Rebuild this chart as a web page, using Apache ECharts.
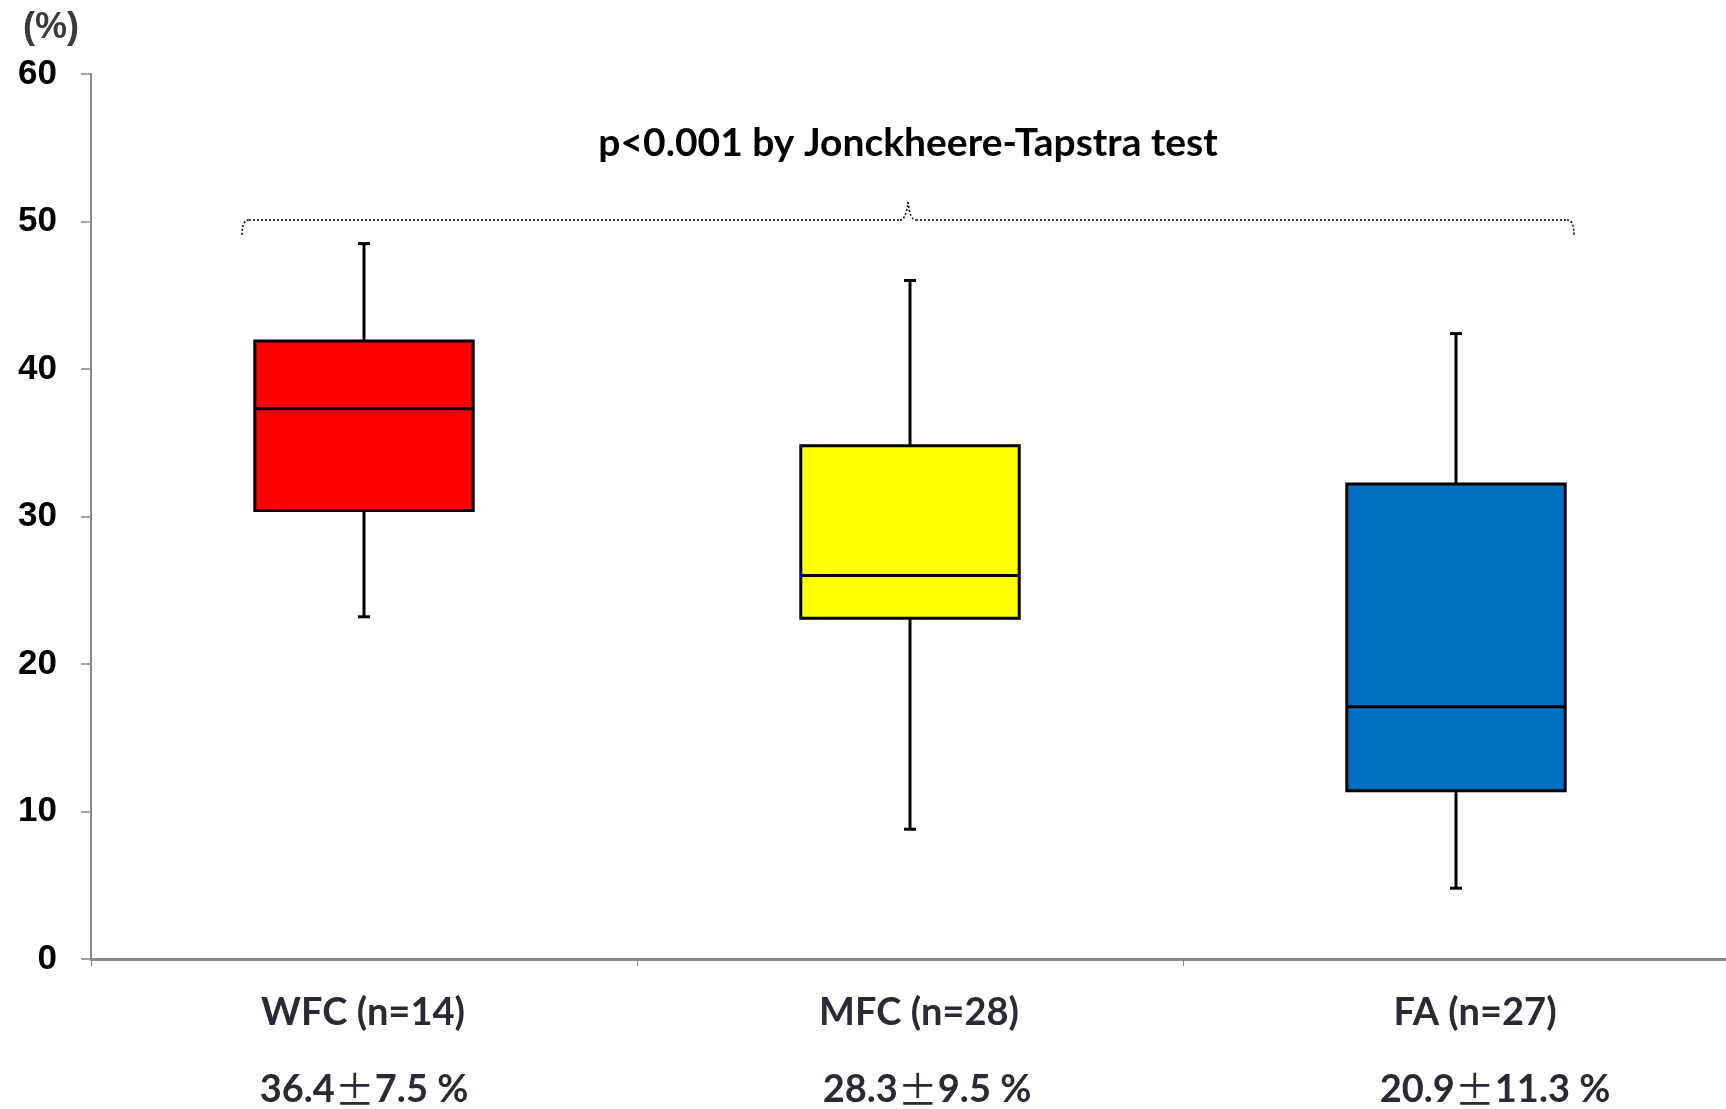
<!DOCTYPE html>
<html>
<head>
<meta charset="utf-8">
<script src="https://cdn.jsdelivr.net/npm/echarts@6/dist/echarts.min.js"></script>
<style>
html,body{margin:0;padding:0;background:#fff;}
#chart{width:1726px;height:1109px;}
</style>
</head>
<body>
<div id="chart"></div>
<script>
// ---- data ----
const categories = ['WFC (n=14)', 'MFC (n=28)', 'FA (n=27)'];
const stats = ['36.4±7.5 %', '28.3±9.5 %', '20.9±11.3 %'];
const whiskerMin = [23.2, 8.8, 4.8];
const q1 = [30.4, 23.1, 11.4];
const median = [37.3, 26.0, 17.1];
const q3 = [41.9, 34.8, 32.2];
const whiskerMax = [48.5, 46.0, 42.4];
const boxColors = ['#FF0000', '#FFFF00', '#0070C0'];
const yTicks = [0, 10, 20, 30, 40, 50, 60];
const annotation = 'p<0.001 by Jonckheere-Tapstra test';

const seriesData = categories.map((c, i) => [i, whiskerMin[i], q1[i], median[i], q3[i], whiskerMax[i]]);

const chart = echarts.init(document.getElementById('chart'), null, {renderer: 'canvas'});

const dotted = {fill: 'none', stroke: '#000', lineWidth: 1.5, lineDash: [2, 2]};
const bracketParts = [
  {type: 'bezierCurve', shape: {x1: 242, y1: 235, cpx1: 242, cpy1: 220, x2: 249, y2: 220}, style: dotted},
  {type: 'line', shape: {x1: 249, y1: 220, x2: 900, y2: 220}, style: dotted},
  {type: 'bezierCurve', shape: {x1: 900, y1: 220, cpx1: 906, cpy1: 220, x2: 908, y2: 202}, style: dotted},
  {type: 'bezierCurve', shape: {x1: 908, y1: 202, cpx1: 910, cpy1: 220, x2: 916, y2: 220}, style: dotted},
  {type: 'line', shape: {x1: 916, y1: 220, x2: 1567, y2: 220}, style: dotted},
  {type: 'bezierCurve', shape: {x1: 1567, y1: 220, cpx1: 1574, cpy1: 220, x2: 1574, y2: 235}, style: dotted}
];

const labelColor = '#2a2a36';
// horizontal offsets (px) of the two label lines relative to category centre, as laid out in the original
const nameShift = [-1, 9, 19];
const statShift = [-1, 17, 39];
const baseText = {fontFamily: 'Lato', fontWeight: 'bold', fontSize: 38, color: labelColor, lineHeight: 77};
const rich = {
  pm: {fontFamily: '"Noto Sans CJK JP"', fontWeight: 'normal', fontSize: 40, color: labelColor, lineHeight: 77},
  b: Object.assign({}, baseText)
};
categories.forEach((c, i) => {
  rich['a' + i] = Object.assign({}, baseText, {padding: [0, Math.max(0, -nameShift[i] * 2), 0, Math.max(0, nameShift[i] * 2)]});
  rich['s' + i] = Object.assign({}, baseText, {padding: [0, 0, 0, Math.max(0, statShift[i] * 2)]});
});

const option = {
  backgroundColor: '#ffffff',
  animation: false,
  grid: {left: 91, width: 1638, top: 74, bottom: 150, containLabel: false, outerBoundsMode: 'none'},
  xAxis: {
    type: 'category',
    data: categories,
    boundaryGap: true,
    axisLine: {lineStyle: {color: '#888888', width: 3}},
    axisTick: {show: true, alignWithLabel: false, length: 7, lineStyle: {color: '#888888', width: 1}},
    axisLabel: {
      margin: 15,
      interval: 0,
      formatter: function (v, i) {
        const parts = stats[i].split('±');
        return '{a' + i + '|' + v + '}\n{s' + i + '|' + parts[0] + '}{pm|±}{b|' + parts[1] + '}';
      },
      rich: rich
    },
    splitLine: {show: false}
  },
  yAxis: {
    type: 'value',
    min: 0, max: 60, interval: 10,
    name: '(%)',
    nameLocation: 'end',
    nameGap: 28,
    nameTextStyle: {fontFamily: '"Liberation Sans", Arial', fontWeight: 'bold', fontSize: 36, color: '#3a3a3a', align: 'right', padding: [0, 12, 0, 0]},
    axisLine: {show: true, lineStyle: {color: '#888888', width: 2}},
    axisTick: {show: true, inside: false, length: 10, lineStyle: {color: '#888888', width: 1.5}},
    axisLabel: {
      margin: 34,
      fontFamily: '"Liberation Sans", Arial',
      fontWeight: 'bold', fontSize: 35, color: '#000000',
      formatter: function (v) { return yTicks.indexOf(v) >= 0 ? String(v) : ''; }
    },
    splitLine: {show: false}
  },
  series: [{
    type: 'custom',
    data: seriesData,
    encode: {x: 0, y: [1, 2, 3, 4, 5]},
    renderItem: function (params, api) {
      const idx = api.value(0);
      const pMin = api.coord([idx, api.value(1)]);
      const pQ1 = api.coord([idx, api.value(2)]);
      const pMed = api.coord([idx, api.value(3)]);
      const pQ3 = api.coord([idx, api.value(4)]);
      const pMax = api.coord([idx, api.value(5)]);
      const bw = api.size([1, 0])[0] * 0.40;
      const cx = pMed[0];
      const capW = 12;
      const lw = 3;
      const line = (x1, y1, x2, y2) => ({type: 'line', shape: {x1: x1, y1: y1, x2: x2, y2: y2}, style: {stroke: '#000', lineWidth: lw}});
      return {
        type: 'group',
        children: [
          line(cx, pQ3[1], cx, pMax[1]),
          line(cx - capW / 2, pMax[1], cx + capW / 2, pMax[1]),
          line(cx, pQ1[1], cx, pMin[1]),
          line(cx - capW / 2, pMin[1], cx + capW / 2, pMin[1]),
          {type: 'rect', shape: {x: cx - bw / 2, y: pQ3[1], width: bw, height: pQ1[1] - pQ3[1]},
           style: {fill: boxColors[params.dataIndex], stroke: '#000', lineWidth: lw}},
          line(cx - bw / 2, pMed[1], cx + bw / 2, pMed[1])
        ]
      };
    }
  }],
  graphic: [
    {
      type: 'text',
      style: {
        x: 908, y: 143, text: annotation, textAlign: 'center', textVerticalAlign: 'middle',
        font: 'bold 39px Lato', fill: '#000'
      }
    },
    {type: 'group', children: bracketParts}
  ]
};
chart.setOption(option);
</script>
</body>
</html>
